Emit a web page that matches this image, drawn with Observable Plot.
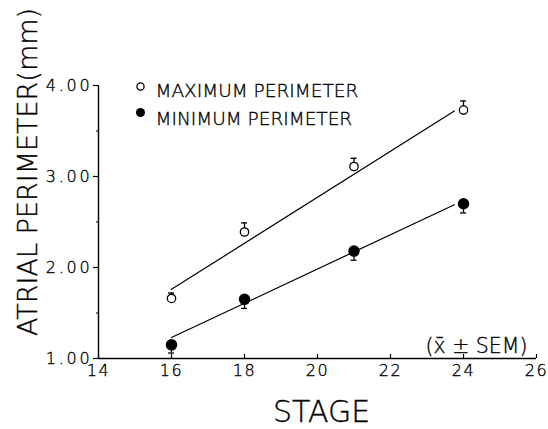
<!DOCTYPE html>
<html>
<head>
<meta charset="utf-8">
<script src="https://cdn.jsdelivr.net/npm/d3@7"></script>
<script src="https://cdn.jsdelivr.net/npm/@observablehq/plot@0.6"></script>
<style>
  html, body { margin: 0; padding: 0; background: #fff; }
  svg text { font-weight: 200; fill: #000; stroke: #000; stroke-width: 0.35px; }
  g[aria-label="y-axis tick label"] text { letter-spacing: 2.8px; }
  g[aria-label="x-axis tick label"] text { letter-spacing: 1.5px; }
</style>
</head>
<body>
<div id="chart"></div>
<script>
// Data
const stages = [16, 18, 21, 24];
const maxMean = [1.66, 2.39, 3.11, 3.73];
const maxSem = [0.06, 0.10, 0.09, 0.10];
const minMean = [1.15, 1.65, 2.18, 2.70];
const minSem = [0.09, 0.10, 0.10, 0.10];
// fitted regression lines (endpoints)
const fitStage = [16, 23.75];
const maxFit = [1.76, 3.72];
const minFit = [1.23, 2.69];
// ticks
const xTicks = [14, 16, 18, 20, 22, 24, 26];
const yTicks = [1, 2, 3, 4];
const yMinorTicks = [1.5, 2.5, 3.5];
const legendLabels = ["MAXIMUM PERIMETER", "MINIMUM PERIMETER"];
const yLabel = "ATRIAL PERIMETER(mm)";
const xLabel = "STAGE";
const note = "(x\u0304 \u00b1 SEM)";

const maxData = stages.map((s, i) => ({stage: s, mean: maxMean[i], sem: maxSem[i]}));
const minData = stages.map((s, i) => ({stage: s, mean: minMean[i], sem: minSem[i]}));
const maxLine = fitStage.map((s, i) => ({stage: s, v: maxFit[i]}));
const minLine = fitStage.map((s, i) => ({stage: s, v: minFit[i]}));

const FONT = "'DejaVu Sans', sans-serif";

const chart = Plot.plot({
  width: 548,
  height: 429,
  marginLeft: 98,
  marginRight: 12,
  marginTop: 85,
  marginBottom: 71,
  x: {domain: [14, 26]},
  y: {domain: [1, 4]},
  style: {fontFamily: FONT, background: "white", color: "black"},
  marks: [
    // axis lines
    Plot.ruleY([1], {stroke: "black", strokeWidth: 1.4}),
    Plot.ruleX([14], {stroke: "black", strokeWidth: 1.4}),
    // y axis
    Plot.axisY({ticks: yTicks, tickFormat: d3.format(".2f"), tickSize: 5, tickPadding: 1,
      fontSize: 16, label: null, stroke: "black", strokeWidth: 1.2}),
    Plot.axisY({ticks: yMinorTicks, tickFormat: () => "", tickSize: 2, label: null, stroke: "black", strokeWidth: 1.2}),
    // x axis
    Plot.axisX({ticks: xTicks, tickFormat: d3.format("d"), tickSize: -4, tickPadding: 10,
      fontSize: 16, label: null, stroke: "black", strokeWidth: 1.2}),
    // axis titles
    Plot.text([yLabel], {text: d => d, frameAnchor: "left", rotate: -90, textAnchor: "middle", lineAnchor: "middle",
      dx: -70, dy: -50, fontSize: 27}),
    Plot.text([xLabel], {text: d => d, frameAnchor: "bottom", textAnchor: "middle", lineAnchor: "middle",
      dx: 4, dy: 54, fontSize: 30}),
    // note
    Plot.text([note], {text: d => d, frameAnchor: "bottom-right", textAnchor: "end", lineAnchor: "middle",
      dx: -9, dy: -12.5, fontSize: 20.5}),
    // regression lines
    Plot.line(maxLine, {x: "stage", y: "v", stroke: "black", strokeWidth: 1.2}),
    Plot.line(minLine, {x: "stage", y: "v", stroke: "black", strokeWidth: 1.2}),
    // error bars
    Plot.ruleX(maxData, {x: "stage", y1: "mean", y2: d => d.mean + d.sem, stroke: "black", strokeWidth: 1.3}),
    Plot.ruleY(maxData, {y: d => d.mean + d.sem, x1: "stage", x2: "stage", insetLeft: -3, insetRight: -3, stroke: "black", strokeWidth: 1.3}),
    Plot.ruleX(minData, {x: "stage", y1: "mean", y2: d => d.mean - d.sem, stroke: "black", strokeWidth: 1.3}),
    Plot.ruleY(minData, {y: d => d.mean - d.sem, x1: "stage", x2: "stage", insetLeft: -3, insetRight: -3, stroke: "black", strokeWidth: 1.3}),
    // points
    Plot.dot(maxData, {x: "stage", y: "mean", r: 4.2, fill: "white", stroke: "black", strokeWidth: 1.3}),
    Plot.dot(minData, {x: "stage", y: "mean", r: 5, fill: "black", stroke: "black"}),
    // legend
    Plot.dot([legendLabels[0]], {frameAnchor: "top-left", dx: 42, dy: 1, r: 3.6, fill: "white", stroke: "black", strokeWidth: 1.3}),
    Plot.dot([legendLabels[1]], {frameAnchor: "top-left", dx: 42, dy: 27, r: 4.5, fill: "black"}),
    Plot.text([legendLabels[0]], {text: d => d, frameAnchor: "top-left", textAnchor: "start", lineAnchor: "middle",
      dx: 57, dy: 6, fontSize: 18.5}),
    Plot.text([legendLabels[1]], {text: d => d, frameAnchor: "top-left", textAnchor: "start", lineAnchor: "middle",
      dx: 57, dy: 34, fontSize: 18.5})
  ]
});
document.getElementById("chart").append(chart);
</script>
</body>
</html>
